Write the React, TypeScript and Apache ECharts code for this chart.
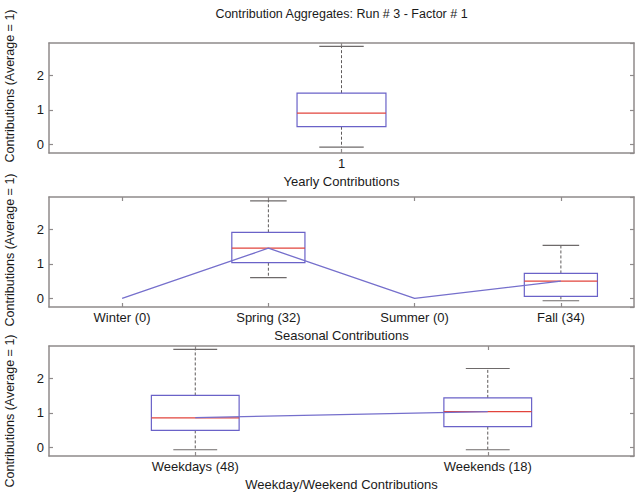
import React, { useEffect, useRef } from 'react';
import * as echarts from 'echarts';

const titleText = 'Contribution Aggregates: Run # 3 - Factor # 1';
const yAxisTitle = 'Contributions (Average = 1)';
const yMin = -0.25;
const yMax = 2.93;

// Box stats: [lower whisker, Q1, median, Q3, upper whisker]
const yearlyCategories = ['1'];
const yearlyBoxes: (number[] | null)[] = [[-0.08, 0.51, 0.9, 1.48, 2.83]];
const yearlyMeans = [0.9];
const yearlyTitle = 'Yearly Contributions';

const seasonalCategories = ['Winter (0)', 'Spring (32)', 'Summer (0)', 'Fall (34)'];
const seasonalBoxes: (number[] | null)[] = [
  null,
  [0.6, 1.03, 1.45, 1.91, 2.82],
  null,
  [-0.07, 0.06, 0.5, 0.72, 1.53],
];
const seasonalMeans = [0, 1.45, 0, 0.5];
const seasonalTitle = 'Seasonal Contributions';

const weekCategories = ['Weekdays (48)', 'Weekends (18)'];
const weekBoxes: (number[] | null)[] = [
  [-0.07, 0.49, 0.85, 1.5, 2.83],
  [-0.07, 0.6, 1.03, 1.43, 2.28],
];
const weekMeans = [0.86, 1.03];
const weekTitle = 'Weekday/Weekend Contributions';

const FONT = "'Liberation Sans', Arial, Helvetica, sans-serif";
const FRAME = '#8f8a8a';
const TEXT = '#1a1a1a';
const BOX = '#6a62c8';
const MEDIAN = '#e2443c';
const WHISKER = '#5e5a5a';
const CAP = '#6e6a6a';
const MEANLINE = '#756fcc';

const panels = [
  { cats: yearlyCategories, boxes: yearlyBoxes, means: yearlyMeans, title: yearlyTitle, top: 43, frac: 0.152 },
  { cats: seasonalCategories, boxes: seasonalBoxes, means: seasonalMeans, title: seasonalTitle, top: 197, frac: 0.5 },
  { cats: weekCategories, boxes: weekBoxes, means: weekMeans, title: weekTitle, top: 346, frac: 0.3 },
];
const PANEL_H = 110;
const LEFT = 49;
const RIGHT = 10;
const yLabelCenters = [86, 250, 411];

const makeRender = (frac: number) => (_params: any, api: any) => {
  const i = api.value(0);
  const lo = api.coord([i, api.value(1)]);
  const q1 = api.coord([i, api.value(2)]);
  const md = api.coord([i, api.value(3)]);
  const q3 = api.coord([i, api.value(4)]);
  const hi = api.coord([i, api.value(5)]);
  const band = api.size([1, 0])[0];
  const w = band * frac;
  const cx = md[0];
  const cap = w / 2;
  const dash = { stroke: WHISKER, lineWidth: 1, lineDash: [3, 2] };
  return {
    type: 'group',
    children: [
      { type: 'line', shape: { x1: cx, y1: q3[1], x2: cx, y2: hi[1] }, style: dash },
      { type: 'line', shape: { x1: cx, y1: q1[1], x2: cx, y2: lo[1] }, style: dash },
      { type: 'line', shape: { x1: cx - cap / 2, y1: hi[1], x2: cx + cap / 2, y2: hi[1] }, style: { stroke: CAP, lineWidth: 1.2 } },
      { type: 'line', shape: { x1: cx - cap / 2, y1: lo[1], x2: cx + cap / 2, y2: lo[1] }, style: { stroke: CAP, lineWidth: 1.2 } },
      { type: 'rect', shape: { x: cx - w / 2, y: q3[1], width: w, height: q1[1] - q3[1] }, style: { fill: 'none', stroke: BOX, lineWidth: 1.2 } },
      { type: 'line', shape: { x1: cx - w / 2, y1: md[1], x2: cx + w / 2, y2: md[1] }, style: { stroke: MEDIAN, lineWidth: 1.3 } },
    ],
  };
};

export default function App() {
  const ref = useRef<HTMLDivElement>(null);
  useEffect(() => {
    if (!ref.current) return;
    const chart = echarts.init(ref.current, undefined, { renderer: 'svg' });
    const grids: any[] = [];
    const xAxes: any[] = [];
    const yAxes: any[] = [];
    const series: any[] = [];
    const graphics: any[] = [];

    panels.forEach((p, k) => {
      grids.push({ left: LEFT, right: RIGHT, top: p.top, height: PANEL_H, containLabel: false });
      const axLine = { show: true, onZero: false, lineStyle: { color: FRAME, width: 1.5 } };
      const tick = { show: true, inside: true, length: 4, alignWithLabel: true, lineStyle: { color: FRAME, width: 1.2 } };
      xAxes.push({
        gridIndex: k, type: 'category', data: p.cats, position: 'bottom', boundaryGap: true,
        axisLine: axLine, axisTick: tick,
        axisLabel: { fontSize: 13, color: TEXT, fontFamily: FONT, margin: 4 },
        splitLine: { show: false },
      });
      xAxes.push({
        gridIndex: k, type: 'category', data: p.cats, position: 'top', boundaryGap: true,
        axisLine: axLine, axisTick: tick, axisLabel: { show: false }, splitLine: { show: false },
      });
      const yCommon = {
        gridIndex: k, type: 'value', min: yMin, max: yMax, splitNumber: 3, minInterval: 1, maxInterval: 1,
        axisLine: axLine,
        axisTick: { show: true, inside: true, length: 4, lineStyle: { color: FRAME, width: 1.2 } },
        splitLine: { show: false },
      };
      yAxes.push({
        ...yCommon, position: 'left',
        axisLabel: {
          fontSize: 13, color: TEXT, fontFamily: FONT, margin: 5, showMinLabel: false, showMaxLabel: false,
          formatter: (v: number) => (Math.abs(v - Math.round(v)) < 1e-9 ? String(Math.round(v)) : ''),
        },
      });
      yAxes.push({ ...yCommon, position: 'right', axisLabel: { show: false } });

      const data = p.boxes
        .map((b, i) => (b ? [i, ...b] : null))
        .filter((d) => d !== null);
      series.push({
        type: 'custom', xAxisIndex: 2 * k, yAxisIndex: 2 * k, silent: true, z: 2,
        renderItem: makeRender(p.frac),
        encode: { x: 0, y: [1, 2, 3, 4, 5] },
        data,
      });
      series.push({
        type: 'line', xAxisIndex: 2 * k, yAxisIndex: 2 * k, silent: true, z: 5,
        data: p.means, showSymbol: false, symbol: 'none',
        lineStyle: { color: MEANLINE, width: 1.3 },
      });

      graphics.push({
        type: 'text', x: (LEFT + 644 - RIGHT) / 2, y: p.top + PANEL_H + 28,
        style: { text: p.title, fill: TEXT, font: `13px ${FONT}`, textAlign: 'center', textVerticalAlign: 'middle' },
      });
      graphics.push({
        type: 'text', x: 10, y: yLabelCenters[k], rotation: Math.PI / 2,
        style: { text: yAxisTitle, fill: TEXT, font: `12.5px ${FONT}`, textAlign: 'center', textVerticalAlign: 'middle' },
      });
    });

    graphics.push({
      type: 'text', x: (LEFT + 644 - RIGHT) / 2, y: 14,
      style: { text: titleText, fill: TEXT, font: `12.5px ${FONT}`, textAlign: 'center', textVerticalAlign: 'middle' },
    });

    chart.setOption({
      animation: false,
      backgroundColor: '#ffffff',
      grid: grids,
      xAxis: xAxes,
      yAxis: yAxes,
      series,
      graphic: graphics,
    });
    return () => chart.dispose();
  }, []);
  return (
    <div
      ref={ref}
      style={{ position: 'fixed', left: 0, top: 0, width: 644, height: 492, background: '#fff' }}
    />
  );
}
